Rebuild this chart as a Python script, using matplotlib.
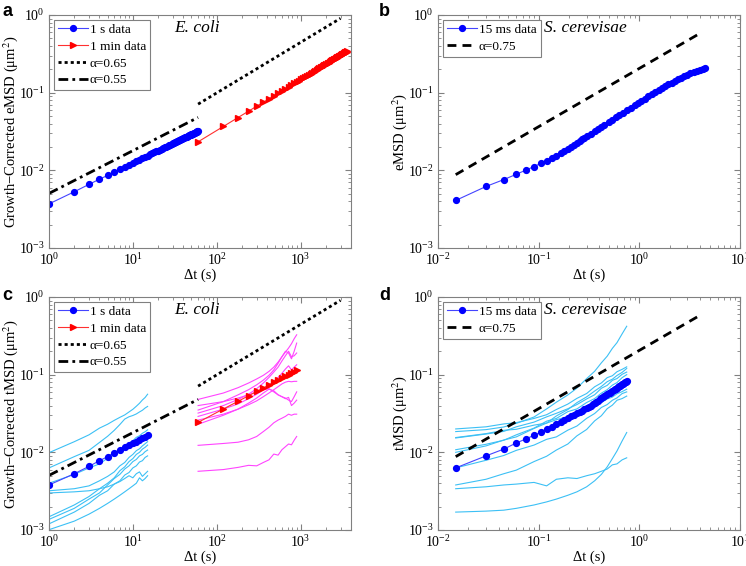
import numpy as np
import matplotlib
matplotlib.use('Agg')
import matplotlib.pyplot as plt
from matplotlib.ticker import LogLocator, NullFormatter

plt.rcParams['font.family'] = ['Liberation Serif', 'DejaVu Serif']
plt.rcParams['mathtext.fontset'] = 'stix'

# ---------------- E. coli (panels a, c) ----------------
t_1s = np.arange(1, 61)                 # lag, s
emsd_1s = [0.0037, 0.0053, 0.0066, 0.0077, 0.0086, 0.0095, 0.0103, 0.0111, 0.0118, 0.0125,
           0.0131, 0.0137, 0.0143, 0.0149, 0.0154, 0.0160, 0.0165, 0.0170, 0.0175, 0.0179,
           0.0184, 0.0189, 0.0193, 0.0198, 0.0202, 0.0206, 0.0210, 0.0214, 0.0218, 0.0222,
           0.0226, 0.0230, 0.0234, 0.0237, 0.0241, 0.0245, 0.0248, 0.0252, 0.0255, 0.0259,
           0.0262, 0.0265, 0.0269, 0.0272, 0.0275, 0.0278, 0.0281, 0.0285, 0.0288, 0.0291,
           0.0294, 0.0297, 0.0300, 0.0303, 0.0306, 0.0309, 0.0312, 0.0314, 0.0317, 0.0320]
t_1min = np.arange(60, 3601, 60)        # lag, s
emsd_1min = [0.0233, 0.0367, 0.0479, 0.0578, 0.0669, 0.0753, 0.0834, 0.0910, 0.0983, 0.1053,
             0.1121, 0.1186, 0.1250, 0.1313, 0.1373, 0.1432, 0.1490, 0.1547, 0.1603, 0.1658,
             0.1712, 0.1764, 0.1817, 0.1868, 0.1919, 0.1969, 0.2018, 0.2066, 0.2115, 0.2162,
             0.2209, 0.2255, 0.2301, 0.2347, 0.2392, 0.2436, 0.2481, 0.2524, 0.2568, 0.2610,
             0.2653, 0.2695, 0.2737, 0.2779, 0.2820, 0.2861, 0.2902, 0.2942, 0.2982, 0.3022,
             0.3061, 0.3101, 0.3140, 0.3178, 0.3217, 0.3255, 0.3293, 0.3330, 0.3368, 0.3405]

a065_t = [60, 3000]
a065_y = [0.0712, 0.906]
a055_t = [1, 60]
a055_y = [0.00505, 0.048]

t_c_1s = np.arange(1, 16)
tmsd_1s = [0.0038, 0.0053, 0.0066, 0.0078, 0.0088, 0.0099, 0.0108, 0.0116, 0.0123, 0.0130,
           0.0137, 0.0144, 0.0151, 0.0158, 0.0165]
t_c_1min = np.arange(60, 901, 60)
tmsd_1min = [0.0243, 0.0361, 0.0454, 0.0535, 0.0608, 0.0675, 0.0737, 0.0795, 0.0850, 0.0903,
             0.0953, 0.1002, 0.1049, 0.1094, 0.1138]

# single-cell tMSD, 1 s sampling
cells_1s = [
    [0.0099, 0.0137, 0.0168, 0.0205, 0.0230, 0.0258, 0.0282, 0.0303, 0.0331, 0.0358, 0.0392, 0.0428, 0.0472, 0.0508, 0.0560],
    [0.0063, 0.0088, 0.0106, 0.0134, 0.0161, 0.0192, 0.0228, 0.0268, 0.0287, 0.0298, 0.0312, 0.0331, 0.0348, 0.0372, 0.0390],
    [0.0040, 0.0052, 0.0063, 0.0071, 0.0084, 0.0094, 0.0109, 0.0119, 0.0131, 0.0141, 0.0156, 0.0163, 0.0176, 0.0184, 0.0195],
    [0.0032, 0.0034, 0.0037, 0.0043, 0.0049, 0.0056, 0.0067, 0.0074, 0.0086, 0.0094, 0.0105, 0.0111, 0.0121, 0.0129, 0.0137],
    [0.0030, 0.0031, 0.0032, 0.0034, 0.0036, 0.0039, 0.0042, 0.0046, 0.0050, 0.0047, 0.0053, 0.0056, 0.0049, 0.0053, 0.0057],
    [0.00148, 0.0021, 0.0027, 0.0034, 0.0040, 0.0047, 0.0058, 0.0065, 0.0076, 0.0083, 0.0094, 0.0100, 0.0110, 0.0116, 0.0124],
    [0.00137, 0.0019, 0.0025, 0.0030, 0.0038, 0.0046, 0.0052, 0.0061, 0.0067, 0.0076, 0.0081, 0.0090, 0.0094, 0.0102, 0.0107],
    [0.0012, 0.0017, 0.0022, 0.0028, 0.0032, 0.0039, 0.0043, 0.0051, 0.0055, 0.0063, 0.0067, 0.0075, 0.0078, 0.0086, 0.0090],
    [0.00101, 0.0013, 0.0016, 0.0019, 0.0022, 0.0025, 0.0028, 0.0031, 0.0034, 0.0037, 0.0040, 0.0047, 0.0043, 0.0046, 0.0050],
]
# single-cell tMSD, 1 min sampling
cells_1min = [
    [0.048, 0.058, 0.068, 0.078, 0.088, 0.098, 0.110, 0.125, 0.145, 0.170, 0.195, 0.220, 0.250, 0.290, 0.326],
    [0.035, 0.045, 0.055, 0.064, 0.074, 0.085, 0.098, 0.115, 0.140, 0.170, 0.200, 0.190, 0.160, 0.200, 0.255],
    [0.032, 0.040, 0.048, 0.056, 0.066, 0.078, 0.092, 0.108, 0.125, 0.150, 0.175, 0.200, 0.170, 0.175, 0.190],
    [0.029, 0.036, 0.042, 0.049, 0.056, 0.064, 0.073, 0.082, 0.092, 0.104, 0.118, 0.130, 0.115, 0.125, 0.134],
    [0.026, 0.031, 0.036, 0.041, 0.046, 0.052, 0.058, 0.064, 0.070, 0.076, 0.080, 0.082, 0.081, 0.082, 0.082],
    [0.023, 0.030, 0.036, 0.043, 0.050, 0.058, 0.065, 0.062, 0.055, 0.052, 0.050, 0.047, 0.045, 0.052, 0.060],
    [0.040, 0.045, 0.050, 0.055, 0.060, 0.064, 0.066, 0.060, 0.055, 0.052, 0.049, 0.051, 0.040, 0.043, 0.047],
    [0.0123, 0.0130, 0.0135, 0.0145, 0.0160, 0.0185, 0.0210, 0.0240, 0.0260, 0.0275, 0.0290, 0.0310, 0.0300, 0.0310, 0.0310],
    [0.0057, 0.0060, 0.0064, 0.0068, 0.0067, 0.0074, 0.0080, 0.0095, 0.0092, 0.0108, 0.0118, 0.0128, 0.0125, 0.0143, 0.0160],
]

# ---------------- S. cerevisae (panels b, d) ----------------
lag_b = [1, 2, 3, 4, 5, 6, 7, 8, 9, 10, 11, 12, 13, 14, 15, 16, 17, 18, 19, 20,
         22, 24, 26, 28, 30, 33, 36, 39, 42, 46, 50, 55, 60, 65, 70, 76, 82, 89, 96, 104,
         112, 121, 130, 140, 150, 161, 173, 186, 200, 215, 231, 248, 266, 285, 300]
emsd_15ms = [0.0041, 0.0062, 0.0076, 0.0089, 0.0101, 0.0112, 0.0123, 0.0132, 0.0143, 0.0152,
             0.0165, 0.0178, 0.0190, 0.0202, 0.0215, 0.0227, 0.0239, 0.0251, 0.0262, 0.0274,
             0.0297, 0.0320, 0.0342, 0.0362, 0.0384, 0.0416, 0.0448, 0.0480, 0.0511, 0.0552,
             0.0593, 0.0644, 0.0692, 0.0739, 0.0785, 0.0840, 0.0894, 0.0956, 0.1016, 0.1084,
             0.1152, 0.1217, 0.1280, 0.1348, 0.1414, 0.1484, 0.1551, 0.1620, 0.1692, 0.1767,
             0.1836, 0.1903, 0.1970, 0.2040, 0.2093]
a075_t = [0.015, 4.0]
a075_y = [0.0088, 0.58]

lag_d = np.arange(1, 51)
tmsd_15ms = [0.0063, 0.0090, 0.0110, 0.0132, 0.0149, 0.0166, 0.0182, 0.0200, 0.0215, 0.0230,
             0.0246, 0.0261, 0.0276, 0.0290, 0.0304, 0.0318, 0.0332, 0.0345, 0.0358, 0.0371,
             0.0384, 0.0400, 0.0416, 0.0432, 0.0448, 0.0463, 0.0479, 0.0495, 0.0510, 0.0526,
             0.0541, 0.0556, 0.0572, 0.0587, 0.0602, 0.0617, 0.0632, 0.0647, 0.0662, 0.0677,
             0.0692, 0.0707, 0.0722, 0.0736, 0.0751, 0.0766, 0.0780, 0.0795, 0.0809, 0.0824]
lag_cells_d = [1, 2, 3, 4, 6, 8, 10, 13, 16, 20, 24, 28, 32, 36, 40, 45, 50]
cells_15ms = [
    [0.0185, 0.0196, 0.0212, 0.0236, 0.0285, 0.0362, 0.0442, 0.0548, 0.0671, 0.0890, 0.1105, 0.1420, 0.1730, 0.2180, 0.2580, 0.3350, 0.4200],
    [0.0200, 0.0213, 0.0232, 0.0241, 0.0273, 0.0305, 0.0356, 0.0418, 0.0495, 0.0572, 0.0698, 0.0782, 0.0915, 0.0968, 0.1090, 0.1170, 0.1260],
    [0.0153, 0.0172, 0.0186, 0.0213, 0.0245, 0.0286, 0.0318, 0.0364, 0.0412, 0.0487, 0.0551, 0.0668, 0.0728, 0.0845, 0.0890, 0.1010, 0.1080],
    [0.0108, 0.0127, 0.0143, 0.0168, 0.0205, 0.0252, 0.0273, 0.0334, 0.0362, 0.0438, 0.0492, 0.0578, 0.0641, 0.0733, 0.0790, 0.0915, 0.1000],
    [0.0063, 0.0079, 0.0091, 0.0106, 0.0124, 0.0147, 0.0158, 0.0193, 0.0218, 0.0274, 0.0316, 0.0378, 0.0412, 0.0468, 0.0502, 0.0571, 0.0600],
    [0.0038, 0.0045, 0.0053, 0.0059, 0.0076, 0.0089, 0.0107, 0.0128, 0.0163, 0.0197, 0.0254, 0.0296, 0.0365, 0.0405, 0.0468, 0.0492, 0.0530],
    [0.0034, 0.0036, 0.0038, 0.0039, 0.0041, 0.0037, 0.0045, 0.0047, 0.0046, 0.0050, 0.0053, 0.0057, 0.0061, 0.0069, 0.0071, 0.0080, 0.0085],
    [0.0017, 0.00175, 0.0018, 0.0019, 0.0021, 0.0023, 0.0025, 0.0028, 0.0031, 0.0036, 0.0043, 0.0052, 0.0065, 0.0083, 0.0104, 0.0140, 0.0180],
    [0.0155, 0.0174, 0.0192, 0.0198, 0.0224, 0.0238, 0.0263, 0.0288, 0.0325, 0.0357, 0.0405, 0.0437, 0.0486, 0.0515, 0.0567, 0.0605, 0.0650],
    [0.0100, 0.0121, 0.0144, 0.0158, 0.0203, 0.0238, 0.0294, 0.0355, 0.0436, 0.0518, 0.0615, 0.0705, 0.0812, 0.0874, 0.0975, 0.1070, 0.1200],
]
frame_dt = 0.015

BLUE = '#0000ff'
BLUE_LINE = '#4444ff'
RED = '#ff0000'
CYAN = '#3cc0f5'
MAGENTA = '#ff44ff'
GREY = '#808080'
MS = 4.2


def style(ax, xlim, ylabel):
    ax.set_xscale('log')
    ax.set_yscale('log')
    ax.set_xlim(*xlim)
    ax.set_ylim(1e-3, 1)
    ax.xaxis.set_major_locator(LogLocator(base=10, numticks=12))
    ax.xaxis.set_minor_locator(LogLocator(base=10, subs=np.arange(2, 10), numticks=12))
    ax.xaxis.set_minor_formatter(NullFormatter())
    ax.yaxis.set_minor_formatter(NullFormatter())
    ax.tick_params(which='both', direction='in', top=True, right=True,
                   colors=GREY, labelcolor='black', labelsize=10, pad=3)
    ax.tick_params(which='major', length=4)
    ax.tick_params(which='minor', length=2)
    for s in ax.spines.values():
        s.set_color(GREY)
        s.set_linewidth(0.8)
    ax.set_xlabel('Δt (s)', fontsize=10.5, labelpad=0)
    ax.set_ylabel(ylabel, fontsize=10.5, labelpad=-1)


def legend(ax):
    leg = ax.legend(loc='upper left', fontsize=9.5, handlelength=2.3, handletextpad=0.15,
                    borderpad=0.3, labelspacing=0.35, borderaxespad=0.35,
                    fancybox=False, framealpha=1)
    leg.get_frame().set_edgecolor(GREY)
    leg.get_frame().set_linewidth(0.8)


fig = plt.figure(figsize=(7.46, 5.66), dpi=100)
w, h = 0.4048, 0.4117
ax_a = fig.add_axes([0.0657, 0.5618, w, h])
ax_b = fig.add_axes([0.5871, 0.5618, w, h])
ax_c = fig.add_axes([0.0657, 0.0636, w, h])
ax_d = fig.add_axes([0.5871, 0.0636, w, h])

dot = (0, (1.1, 1.1))
dashdot = (0, (3.5, 1.5, 1, 1.5))
dash = (0, (3.2, 2.2))

# a
ax_a.plot(t_1s, emsd_1s, '-o', color=BLUE_LINE, lw=0.8, ms=MS, mfc=BLUE, mec=BLUE, label='1 s data')
ax_a.plot(t_1min, emsd_1min, '->', color='#ff3030', lw=0.8, ms=MS, mfc=RED, mec=RED, label='1 min data')
ax_a.plot(a065_t, a065_y, color='k', lw=2, ls=dot, label='α=0.65')
ax_a.plot(a055_t, a055_y, color='k', lw=2, ls=dashdot, label='α=0.55')
style(ax_a, (1, 4000), 'Growth−Corrected eMSD (μm$^2$)')
legend(ax_a)
ax_a.text(0.49, 0.944, 'E. coli', transform=ax_a.transAxes, style='italic',
          fontsize=12.5, ha='center', va='center')

# b
t_b = [frame_dt * k for k in lag_b]
ax_b.plot(t_b, emsd_15ms, '-o', color=BLUE_LINE, lw=0.8, ms=MS, mfc=BLUE, mec=BLUE, label='15 ms data')
ax_b.plot(a075_t, a075_y, color='k', lw=2, ls=dash, label='α=0.75')
style(ax_b, (0.01, 10), 'eMSD (μm$^2$)')
legend(ax_b)
ax_b.text(0.35, 0.944, 'S. cerevisae', transform=ax_b.transAxes, style='italic',
          fontsize=12.5, ha='left', va='center')

# c
for y in cells_1s:
    ax_c.plot(t_c_1s, y, color=CYAN, lw=0.8)
for y in cells_1min:
    ax_c.plot(t_c_1min, y, color=MAGENTA, lw=0.8)
ax_c.plot(t_c_1s, tmsd_1s, '-o', color=BLUE_LINE, lw=0.8, ms=MS, mfc=BLUE, mec=BLUE, label='1 s data')
ax_c.plot(t_c_1min, tmsd_1min, '->', color='#ff3030', lw=0.8, ms=MS, mfc=RED, mec=RED, label='1 min data')
ax_c.plot(a065_t, a065_y, color='k', lw=2, ls=dot, label='α=0.65')
ax_c.plot(a055_t, a055_y, color='k', lw=2, ls=dashdot, label='α=0.55')
style(ax_c, (1, 4000), 'Growth−Corrected tMSD (μm$^2$)')
legend(ax_c)
ax_c.text(0.49, 0.944, 'E. coli', transform=ax_c.transAxes, style='italic',
          fontsize=12.5, ha='center', va='center')

# d
t_cells_d = [frame_dt * k for k in lag_cells_d]
for y in cells_15ms:
    ax_d.plot(t_cells_d, y, color=CYAN, lw=0.8)
ax_d.plot(frame_dt * lag_d, tmsd_15ms, '-o', color=BLUE_LINE, lw=0.8, ms=MS, mfc=BLUE, mec=BLUE, label='15 ms data')
ax_d.plot(a075_t, a075_y, color='k', lw=2, ls=dash, label='α=0.75')
style(ax_d, (0.01, 10), 'tMSD (μm$^2$)')
legend(ax_d)
ax_d.text(0.35, 0.944, 'S. cerevisae', transform=ax_d.transAxes, style='italic',
          fontsize=12.5, ha='left', va='center')

for lab, x, y in [('a', 0.003, 0.995), ('b', 0.508, 0.995), ('c', 0.003, 0.493), ('d', 0.508, 0.493)]:
    fig.text(x, y, lab, fontsize=13, fontweight='bold', family='Liberation Sans', va='top')

fig.savefig('out.png', dpi=100)
